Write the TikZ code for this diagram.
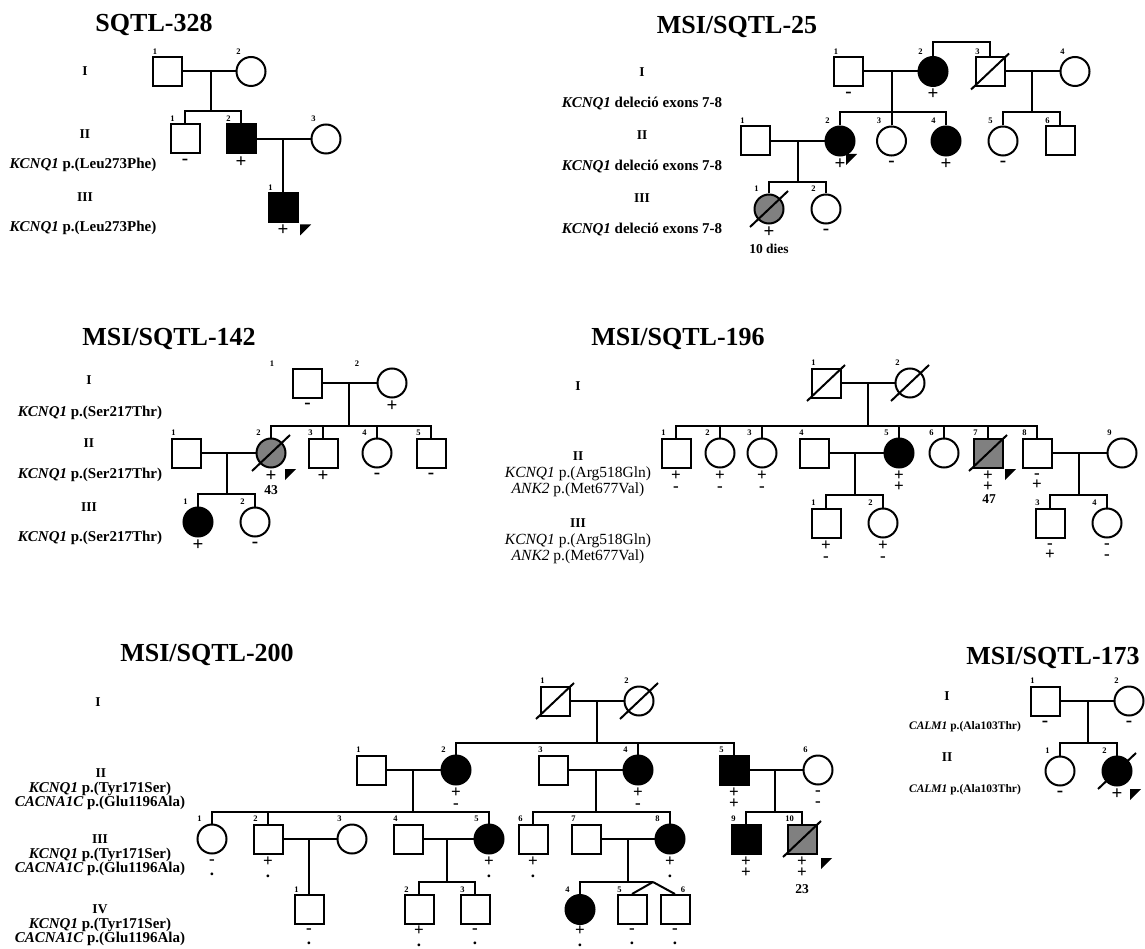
\documentclass[tikz,border=0pt]{standalone}
\usepackage{fontspec}
\setmainfont{Liberation Serif}
\definecolor{greyfill}{RGB}{128,128,128}
\newcommand{\Nm}[2]{\node[num] (#1-n) at ([shift={(-12.5,-20)}]#1.center) {#2};}
\newcommand{\Nmx}[4]{\node[num] (#1-n) at ([shift={(#2,#3)}]#1.center) {#4};}
\newcommand{\Mk}[2]{\node[mk] (#1-k) at ([shift={(0,23)}]#1.center) {#2};}
\newcommand{\Mkk}[3]{\node[mkb] (#1-k) at ([shift={(0,28.5)}]#1.center) {#2\\#3};}
\newcommand{\Mkkl}[3]{\node[mkb] (#1-k) at ([shift={(0,27)}]#1.center) {#2\\#3};}
\newcommand{\Dd}[1]{\draw ([shift={(-19,18)}]#1.center) -- ([shift={(19,-18)}]#1.center);}
\newcommand{\Arw}[3]{\fill ([shift={(#2,#3)}]#1.center) -- ++(11,0) -- ++(-11,11) -- cycle;}
\begin{document}
\begin{tikzpicture}[x=1pt,y=-1pt,line width=2pt,
  sq/.style={draw,rectangle,minimum size=29pt,inner sep=0pt,fill=white},
  ci/.style={draw,circle,minimum size=29pt,inner sep=0pt,fill=white},
  aff/.style={fill=black},
  gry/.style={fill=greyfill},
  ttl/.style={font=\bfseries\fontsize{26}{28}\selectfont,inner sep=0pt},
  gen/.style={font=\bfseries\fontsize{13.5}{14}\selectfont,inner sep=0pt},
  lbl/.style={font=\bfseries\fontsize{15}{15}\selectfont,inner sep=0pt},
  lbl2/.style={font=\bfseries\fontsize{15}{14.5}\selectfont,inner sep=0pt,align=center},
  lbls/.style={font=\bfseries\fontsize{11.5}{11.5}\selectfont,inner sep=0pt},
  lblr/.style={font=\fontsize{15.5}{16}\selectfont,inner sep=0pt,align=center},
  num/.style={font=\bfseries\fontsize{8.5}{8.5}\selectfont,inner sep=0pt},
  mk/.style={font=\bfseries\fontsize{19}{19}\selectfont,inner sep=0pt},
  mkb/.style={font=\bfseries\fontsize{17}{11}\selectfont,inner sep=0pt,align=center},
  age/.style={font=\bfseries\fontsize{13.5}{13.5}\selectfont,inner sep=0pt}]
\fill[white] (0,0) rectangle (1145,949);
\useasboundingbox (0,0) rectangle (1145,949);

% ---------------- SQTL-328 ----------------
\node[ttl] (A-t) at (154,25) {SQTL-328};
\node[gen] (A-g1) at (85,71) {I};
\node[gen] (A-g2) at (85,134) {II};
\node[lbl] (A-l2) at (83,165) {\textit{KCNQ1} p.(Leu273Phe)};
\node[gen] (A-g3) at (85,197) {III};
\node[lbl] (A-l3) at (83,228) {\textit{KCNQ1} p.(Leu273Phe)};
\node[sq] (A-I1) at (167.5,71.5) {}; \Nm{A-I1}{1}
\node[ci] (A-I2) at (251,71.5) {}; \Nm{A-I2}{2}
\node[sq] (A-II1) at (185,139) {}; \Nm{A-II1}{1} \Mk{A-II1}{-}
\node[sq,aff] (A-II2) at (241,139) {}; \Nm{A-II2}{2} \Mk{A-II2}{+}
\node[ci] (A-II3) at (326,139) {}; \Nm{A-II3}{3}
\node[sq,aff] (A-III1) at (283,207.5) {}; \Nm{A-III1}{1} \Mk{A-III1}{+} \Arw{A-III1}{17}{17}
\coordinate (A-m1) at (211,71.5); \coordinate (A-s1) at (211,111);
\coordinate (A-m2) at (283,139);
\draw (A-I1) -- (A-I2);
\draw (A-m1) -- (A-s1);
\draw (A-II1.north) |- (A-s1) -| (A-II2.north);
\draw (A-II2) -- (A-II3);
\draw (A-m2) -- (A-III1.north);

% ---------------- MSI/SQTL-25 ----------------
\node[ttl] (B-t) at (737,27) {MSI/SQTL-25};
\node[gen] (B-g1) at (642,72) {I};
\node[lbl] (B-l1) at (642,104) {\textit{KCNQ1} deleció exons 7-8};
\node[gen] (B-g2) at (642,135) {II};
\node[lbl] (B-l2) at (642,167) {\textit{KCNQ1} deleció exons 7-8};
\node[gen] (B-g3) at (642,198) {III};
\node[lbl] (B-l3) at (642,230) {\textit{KCNQ1} deleció exons 7-8};
\node[sq] (B-I1) at (848.5,71.5) {}; \Nm{B-I1}{1} \Mk{B-I1}{-}
\node[ci,aff] (B-I2) at (933,71.5) {}; \Nm{B-I2}{2} \Mk{B-I2}{+}
\node[sq] (B-I3) at (990,71.5) {}; \Nm{B-I3}{3} \Dd{B-I3}
\node[ci] (B-I4) at (1075,71.5) {}; \Nm{B-I4}{4}
\node[sq] (B-II1) at (755,141) {}; \Nm{B-II1}{1}
\node[ci,aff] (B-II2) at (840,141) {}; \Nm{B-II2}{2} \Mk{B-II2}{+} \Arw{B-II2}{6}{13}
\node[ci] (B-II3) at (891.5,141) {}; \Nm{B-II3}{3} \Mk{B-II3}{-}
\node[ci,aff] (B-II4) at (946,141) {}; \Nm{B-II4}{4} \Mk{B-II4}{+}
\node[ci] (B-II5) at (1003,141) {}; \Nm{B-II5}{5} \Mk{B-II5}{-}
\node[sq] (B-II6) at (1060,141) {}; \Nm{B-II6}{6}
\node[ci,gry] (B-III1) at (769,209) {}; \Nm{B-III1}{1} \Dd{B-III1} \Mk{B-III1}{+}
\node[age] (B-III1-a) at (769,249) {10 dies};
\node[ci] (B-III2) at (826,209) {}; \Nm{B-III2}{2} \Mk{B-III2}{-}
\coordinate (B-m1) at (891.5,71.5); \coordinate (B-s1) at (891.5,112.5);
\coordinate (B-m2) at (1032,71.5); \coordinate (B-s2) at (1032,112.5);
\coordinate (B-m3) at (798,141); \coordinate (B-s3) at (798,182);
\draw (B-I2.north) -- ++(0,-14) -| (B-I3.north);
\draw (B-I1) -- (B-I2);
\draw (B-I3) -- (B-I4);
\draw (B-m1) -- (B-s1);
\draw (B-II2.north) |- (B-s1) -| (B-II4.north);
\draw (B-II3.north) -- (B-II3.north |- B-s1);
\draw (B-m2) -- (B-s2);
\draw (B-II5.north) |- (B-s2) -| (B-II6.north);
\draw (B-II1) -- (B-II2);
\draw (B-m3) -- (B-s3);
\draw (B-III1.north) |- (B-s3) -| (B-III2.north);

% ---------------- MSI/SQTL-142 ----------------
\node[ttl] (C-t) at (169,339) {MSI/SQTL-142};
\node[gen] (C-g1) at (89,380) {I};
\node[lbl] (C-l1) at (90,413) {\textit{KCNQ1} p.(Ser217Thr)};
\node[gen] (C-g2) at (89,443) {II};
\node[lbl] (C-l2) at (90,475) {\textit{KCNQ1} p.(Ser217Thr)};
\node[gen] (C-g3) at (89,507) {III};
\node[lbl] (C-l3) at (90,538) {\textit{KCNQ1} p.(Ser217Thr)};
\node[sq] (C-I1) at (307.5,383) {}; \Nmx{C-I1}{-35.5}{-19}{1} \Mk{C-I1}{-}
\node[ci] (C-I2) at (392,383) {}; \Nmx{C-I2}{-35}{-19}{2} \Mk{C-I2}{+}
\node[sq] (C-II1) at (186,453) {}; \Nm{C-II1}{1}
\node[ci,gry] (C-II2) at (271,453) {}; \Nm{C-II2}{2} \Dd{C-II2} \Mk{C-II2}{+} \Arw{C-II2}{14}{16}
\node[age] (C-II2-a) at (271,490) {43};
\node[sq] (C-II3) at (323,453) {}; \Nm{C-II3}{3} \Mk{C-II3}{+}
\node[ci] (C-II4) at (377,453) {}; \Nm{C-II4}{4} \Mk{C-II4}{-}
\node[sq] (C-II5) at (431,453) {}; \Nm{C-II5}{5} \Mk{C-II5}{-}
\node[ci,aff] (C-III1) at (198,522) {}; \Nm{C-III1}{1} \Mk{C-III1}{+}
\node[ci] (C-III2) at (255,522) {}; \Nm{C-III2}{2} \Mk{C-III2}{-}
\coordinate (C-m1) at (349,383); \coordinate (C-s1) at (349,426);
\coordinate (C-m2) at (227,453); \coordinate (C-s2) at (227,494);
\draw (C-I1) -- (C-I2);
\draw (C-m1) -- (C-s1);
\draw (C-II2.north) |- (C-s1) -| (C-II5.north);
\draw (C-II3.north) -- (C-II3.north |- C-s1);
\draw (C-II4.north) -- (C-II4.north |- C-s1);
\draw (C-II1) -- (C-II2);
\draw (C-m2) -- (C-s2);
\draw (C-III1.north) |- (C-s2) -| (C-III2.north);

% ---------------- MSI/SQTL-196 ----------------
\node[ttl] (D-t) at (678,339) {MSI/SQTL-196};
\node[gen] (D-g1) at (578,386) {I};
\node[gen] (D-g2) at (578,456) {II};
\node[lblr] (D-l2) at (578,482) {\textit{KCNQ1} p.(Arg518Gln)\\\textit{ANK2} p.(Met677Val)};
\node[gen] (D-g3) at (578,523) {III};
\node[lblr] (D-l3) at (578,549) {\textit{KCNQ1} p.(Arg518Gln)\\\textit{ANK2} p.(Met677Val)};
\node[sq] (D-I1) at (826,383) {}; \Nm{D-I1}{1} \Dd{D-I1}
\node[ci] (D-I2) at (910,383) {}; \Nm{D-I2}{2} \Dd{D-I2}
\node[sq] (D-II1) at (676,453) {}; \Nm{D-II1}{1} \Mkk{D-II1}{+}{-}
\node[ci] (D-II2) at (720,453) {}; \Nm{D-II2}{2} \Mkk{D-II2}{+}{-}
\node[ci] (D-II3) at (762,453) {}; \Nm{D-II3}{3} \Mkk{D-II3}{+}{-}
\node[sq] (D-II4) at (814,453) {}; \Nm{D-II4}{4}
\node[ci,aff] (D-II5) at (899,453) {}; \Nm{D-II5}{5} \Mkk{D-II5}{+}{+}
\node[ci] (D-II6) at (944,453) {}; \Nm{D-II6}{6}
\node[sq,gry] (D-II7) at (988,453) {}; \Nm{D-II7}{7} \Dd{D-II7} \Mkk{D-II7}{+}{+} \Arw{D-II7}{17}{16}
\node[age] (D-II7-a) at (989,499) {47};
\node[sq] (D-II8) at (1037,453) {}; \Nm{D-II8}{8} \Mkk{D-II8}{-}{+}
\node[ci] (D-II9) at (1122,453) {}; \Nm{D-II9}{9}
\node[sq] (D-III1) at (826,523) {}; \Nm{D-III1}{1} \Mkk{D-III1}{+}{-}
\node[ci] (D-III2) at (883,523) {}; \Nm{D-III2}{2} \Mkk{D-III2}{+}{-}
\node[sq] (D-III3) at (1050,523) {}; \Nm{D-III3}{3} \Mkk{D-III3}{-}{+}
\node[ci] (D-III4) at (1107,523) {}; \Nm{D-III4}{4} \Mkk{D-III4}{-}{-}
\coordinate (D-m1) at (868,383); \coordinate (D-s1) at (868,426);
\coordinate (D-m2) at (854.5,453); \coordinate (D-s2) at (854.5,495);
\coordinate (D-m3) at (1078.5,453); \coordinate (D-s3) at (1078.5,495);
\draw (D-I1) -- (D-I2);
\draw (D-m1) -- (D-s1);
\draw (D-II1.north) |- (D-s1) -| (D-II8.north);
\draw (D-II2.north) -- (D-II2.north |- D-s1);
\draw (D-II3.north) -- (D-II3.north |- D-s1);
\draw (D-II5.north) -- (D-II5.north |- D-s1);
\draw (D-II6.north) -- (D-II6.north |- D-s1);
\draw (D-II7.north) -- (D-II7.north |- D-s1);
\draw (D-II4) -- (D-II5);
\draw (D-m2) -- (D-s2);
\draw (D-III1.north) |- (D-s2) -| (D-III2.north);
\draw (D-II8) -- (D-II9);
\draw (D-m3) -- (D-s3);
\draw (D-III3.north) |- (D-s3) -| (D-III4.north);

% ---------------- MSI/SQTL-200 ----------------
\node[ttl] (E-t) at (207,655) {MSI/SQTL-200};
\node[gen] (E-g1) at (98,702) {I};
\node[gen] (E-g2) at (101,773) {II};
\node[lbl2] (E-l2) at (100,796) {\textit{KCNQ1} p.(Tyr171Ser)\\\textit{CACNA1C} p.(Glu1196Ala)};
\node[gen] (E-g3) at (100,839) {III};
\node[lbl2] (E-l3) at (100,862) {\textit{KCNQ1} p.(Tyr171Ser)\\\textit{CACNA1C} p.(Glu1196Ala)};
\node[gen] (E-g4) at (100,909) {IV};
\node[lbl2] (E-l4) at (100,932) {\textit{KCNQ1} p.(Tyr171Ser)\\\textit{CACNA1C} p.(Glu1196Ala)};
\node[sq] (E-I1) at (555,701) {}; \Nm{E-I1}{1} \Dd{E-I1}
\node[ci] (E-I2) at (639,701) {}; \Nm{E-I2}{2} \Dd{E-I2}
\node[sq] (E-II1) at (371,770) {}; \Nm{E-II1}{1}
\node[ci,aff] (E-II2) at (456,770) {}; \Nm{E-II2}{2} \Mkk{E-II2}{+}{-}
\node[sq] (E-II3) at (553,770) {}; \Nm{E-II3}{3}
\node[ci,aff] (E-II4) at (638,770) {}; \Nm{E-II4}{4} \Mkk{E-II4}{+}{-}
\node[sq,aff] (E-II5) at (734,770) {}; \Nm{E-II5}{5} \Mkk{E-II5}{+}{+}
\node[ci] (E-II6) at (818,770) {}; \Nm{E-II6}{6} \Mkk{E-II6}{-}{-}
\node[ci] (E-III1) at (212,839) {}; \Nm{E-III1}{1} \Mkk{E-III1}{-}{.}
\node[sq] (E-III2) at (268,839) {}; \Nm{E-III2}{2} \Mkk{E-III2}{+}{.}
\node[ci] (E-III3) at (352,839) {}; \Nm{E-III3}{3}
\node[sq] (E-III4) at (408,839) {}; \Nm{E-III4}{4}
\node[ci,aff] (E-III5) at (489,839) {}; \Nm{E-III5}{5} \Mkk{E-III5}{+}{.}
\node[sq] (E-III6) at (533,839) {}; \Nm{E-III6}{6} \Mkk{E-III6}{+}{.}
\node[sq] (E-III7) at (586,839) {}; \Nm{E-III7}{7}
\node[ci,aff] (E-III8) at (670,839) {}; \Nm{E-III8}{8} \Mkk{E-III8}{+}{.}
\node[sq,aff] (E-III9) at (746,839) {}; \Nm{E-III9}{9} \Mkk{E-III9}{+}{+}
\node[sq,gry] (E-III10) at (802,839) {}; \Nm{E-III10}{10} \Dd{E-III10} \Mkk{E-III10}{+}{+} \Arw{E-III10}{19}{19}
\node[age] (E-III10-a) at (802,889) {23};
\node[sq] (E-IV1) at (309,909.5) {}; \Nm{E-IV1}{1} \Mkkl{E-IV1}{-}{.}
\node[sq] (E-IV2) at (419,909.5) {}; \Nm{E-IV2}{2} \Mkkl{E-IV2}{+}{.}
\node[sq] (E-IV3) at (475,909.5) {}; \Nm{E-IV3}{3} \Mkkl{E-IV3}{-}{.}
\node[ci,aff] (E-IV4) at (580,909.5) {}; \Nm{E-IV4}{4} \Mkkl{E-IV4}{+}{.}
\node[sq] (E-IV5) at (632,909.5) {}; \Nm{E-IV5}{5} \Mkkl{E-IV5}{-}{.}
\node[sq] (E-IV6) at (675,909.5) {}; \Nmx{E-IV6}{8}{-20}{6} \Mkkl{E-IV6}{-}{.}
\coordinate (E-m1) at (597,701); \coordinate (E-s1) at (597,743);
\coordinate (E-m2) at (413,770); \coordinate (E-s2) at (413,812);
\coordinate (E-m3) at (596,770); \coordinate (E-s3) at (596,812);
\coordinate (E-m4) at (775,770); \coordinate (E-s4) at (775,812);
\coordinate (E-m5) at (309,839);
\coordinate (E-m6) at (447,839); \coordinate (E-s6) at (447,882);
\coordinate (E-m7) at (628,839); \coordinate (E-tw) at (653,882);
\draw (E-I1) -- (E-I2);
\draw (E-m1) -- (E-s1);
\draw (E-II2.north) |- (E-s1) -| (E-II5.north);
\draw (E-II4.north) -- (E-II4.north |- E-s1);
\draw (E-II1) -- (E-II2);
\draw (E-m2) -- (E-s2);
\draw (E-III1.north) |- (E-s2) -| (E-III5.north);
\draw (E-III2.north) -- (E-III2.north |- E-s2);
\draw (E-II3) -- (E-II4);
\draw (E-m3) -- (E-s3);
\draw (E-III6.north) |- (E-s3) -| (E-III8.north);
\draw (E-II5) -- (E-II6);
\draw (E-m4) -- (E-s4);
\draw (E-III9.north) |- (E-s4) -| (E-III10.north);
\draw (E-III2) -- (E-III3);
\draw (E-m5) -- (E-IV1.north);
\draw (E-III4) -- (E-III5);
\draw (E-m6) -- (E-s6);
\draw (E-IV2.north) |- (E-s6) -| (E-IV3.north);
\draw (E-III7) -- (E-III8);
\draw (E-m7) -- (E-m7 |- E-tw);
\draw (E-IV4.north) |- (E-tw);
\draw (E-tw) -- (E-IV5.north);
\draw (E-tw) -- (E-IV6.north);

% ---------------- MSI/SQTL-173 ----------------
\node[ttl] (F-t) at (1053,658) {MSI/SQTL-173};
\node[gen] (F-g1) at (947,696) {I};
\node[lbls] (F-l1) at (965,727) {\textit{CALM1} p.(Ala103Thr)};
\node[gen] (F-g2) at (947,757) {II};
\node[lbls] (F-l2) at (965,790) {\textit{CALM1} p.(Ala103Thr)};
\node[sq] (F-I1) at (1045,701) {}; \Nm{F-I1}{1} \Mk{F-I1}{-}
\node[ci] (F-I2) at (1129,701) {}; \Nm{F-I2}{2} \Mk{F-I2}{-}
\node[ci] (F-II1) at (1060,771) {}; \Nm{F-II1}{1} \Mk{F-II1}{-}
\node[ci,aff] (F-II2) at (1117,771) {}; \Nm{F-II2}{2} \Dd{F-II2} \Mk{F-II2}{+} \Arw{F-II2}{13}{18}
\coordinate (F-m1) at (1088,701); \coordinate (F-s1) at (1088,743);
\draw (F-I1) -- (F-I2);
\draw (F-m1) -- (F-s1);
\draw (F-II1.north) |- (F-s1) -| (F-II2.north);
\end{tikzpicture}
\end{document}
